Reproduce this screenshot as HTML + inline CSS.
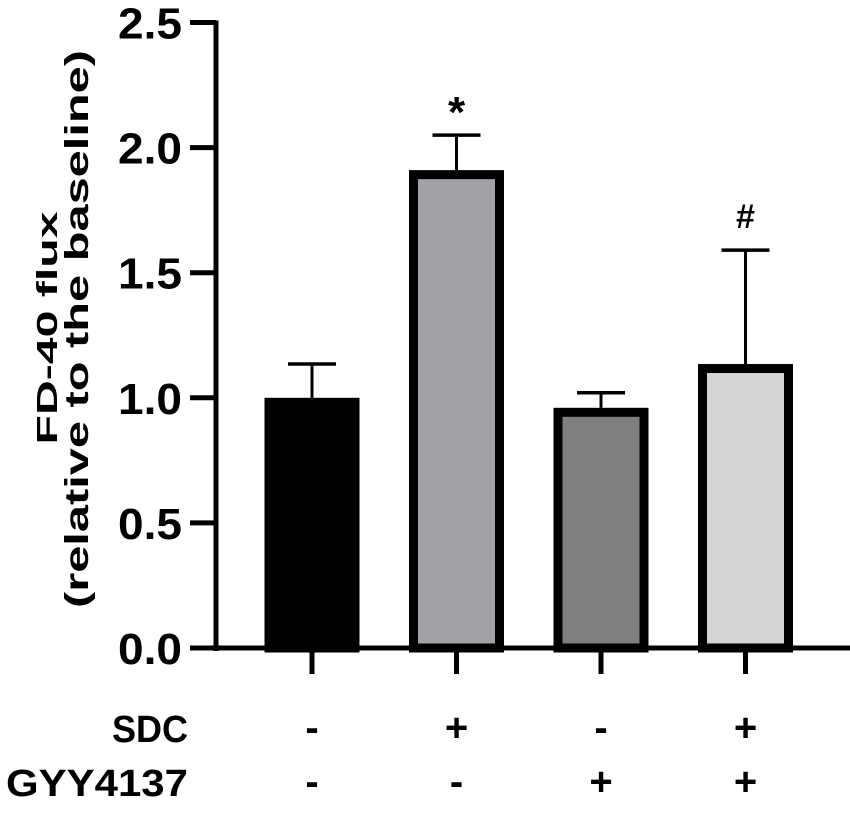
<!DOCTYPE html>
<html><head><meta charset="utf-8"><style>
html,body{margin:0;padding:0;background:#fff;}
svg text{font-family:"Liberation Sans",Arial,sans-serif;font-weight:bold;fill:#000;}
</style></head><body>
<svg id="chart" width="850" height="808" viewBox="0 0 850 808" xmlns="http://www.w3.org/2000/svg">
<g id="g"></g>
</svg>
<script>
const categories = ["control","SDC","GYY4137","SDC+GYY4137"];
const values = [1.0, 1.91, 0.96, 1.135];
const errors = [0.135, 0.14, 0.06, 0.455];
const fills = ["#000000","#a2a1a6","#7f7f7f","#d4d4d4"];
const marks = ["","*","","#"];
const sdcRow = ["-","+","-","+"];
const gyyRow = ["-","-","+","+"];
const yTicks = [0,0.5,1.0,1.5,2.0,2.5];
const yTickLabels = ["0.0","0.5","1.0","1.5","2.0","2.5"];

const NS="http://www.w3.org/2000/svg";
const g=document.getElementById('g');
const y0=648, pxPer=250.2;
function y(v){return y0-v*pxPer;}
function x(i){return 312+i*144.5;}
function el(t,a,txt){const e=document.createElementNS(NS,t);for(const k in a)e.setAttribute(k,a[k]);if(txt!==undefined)e.textContent=txt;g.appendChild(e);return e;}

let ax=el('line',{x1:216,y1:y(2.5)-2,x2:216,y2:y0+3,stroke:'#000','stroke-width':5});


yTicks.forEach((v,i)=>{
  const t=el('line',{x1:190,y1:y(v),x2:216,y2:y(v),stroke:'#000','stroke-width':5});
  
  
  const l=el('text',{x:182,y:y(v)+16,'text-anchor':'end','font-size':44,textLength:64,lengthAdjust:'spacingAndGlyphs'},yTickLabels[i]);
  
  
});
categories.forEach((c,i)=>{
  const w=95, bw=9, xl=x(i)-w/2, top=y(values[i]);
  const eTop=y(values[i]+errors[i]);
  const eb=el('line',{x1:x(i),y1:top,x2:x(i),y2:eTop,stroke:'#000','stroke-width':3});
  
  
  const cap=el('line',{x1:x(i)-24,y1:eTop,x2:x(i)+24,y2:eTop,stroke:'#000','stroke-width':3.5});
  
  
  const r=el('rect',{x:xl+bw/2,y:top+bw/2,width:w-bw,height:y0-top-bw/2,fill:fills[i],stroke:'#000','stroke-width':bw});
  
  
  if(marks[i]){
    const m=el('text',{x:x(i),y:eTop-(marks[i]=='*'?8:22),'text-anchor':'middle','font-size':marks[i]=='*'?44:34},marks[i]);
    
    
  }
  const xt=el('line',{x1:x(i),y1:y0,x2:x(i),y2:674,stroke:'#000','stroke-width':5});
  
  
  const s=el('text',{x:x(i),y:741,'text-anchor':'middle','font-size':40},sdcRow[i]);
  
  
  const gy=el('text',{x:x(i),y:795,'text-anchor':'middle','font-size':40},gyyRow[i]);
  
  
});
let xa=el('line',{x1:190,y1:y0,x2:850,y2:y0,stroke:'#000','stroke-width':5});


let l1=el('text',{x:188,y:742,'text-anchor':'end','font-size':38,textLength:76,lengthAdjust:'spacingAndGlyphs'},'SDC');


let l2=el('text',{x:188,y:796,'text-anchor':'end','font-size':38,textLength:182,lengthAdjust:'spacingAndGlyphs'},'GYY4137');


let t1=el('text',{x:0,y:0,'text-anchor':'middle','font-size':29,textLength:233,lengthAdjust:'spacingAndGlyphs',transform:'translate(57,328) rotate(-90)'},'FD-40 flux');


let t2=el('text',{x:0,y:0,'text-anchor':'middle','font-size':33,textLength:558,lengthAdjust:'spacingAndGlyphs',transform:'translate(88,329) rotate(-90)'},'(relative to the baseline)');


</script>
</body></html>
